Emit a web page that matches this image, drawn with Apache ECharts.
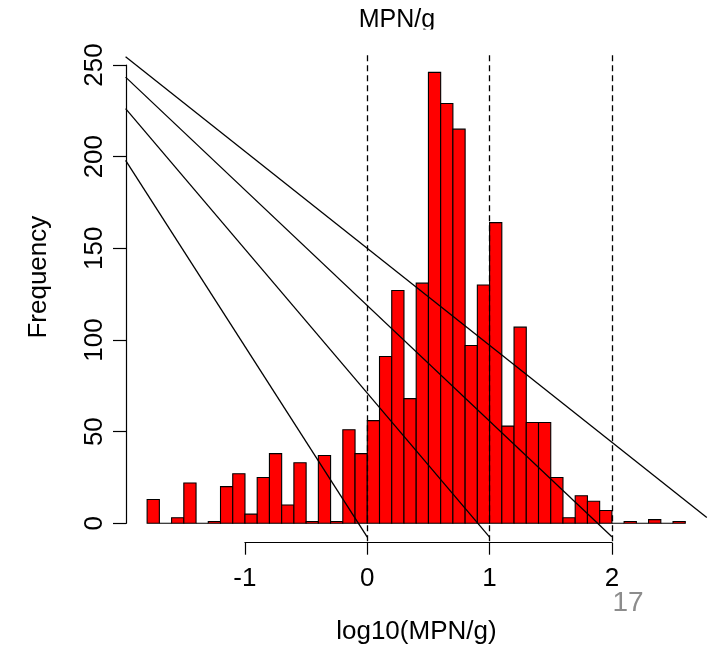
<!DOCTYPE html>
<html>
<head>
<meta charset="utf-8">
<script src="https://cdn.jsdelivr.net/npm/echarts@6/dist/echarts.min.js"></script>
<style>
html,body{margin:0;padding:0;background:#fff;}
#chart{width:712px;height:649px;}
</style>
</head>
<body>
<div id="chart"></div>
<script>
// Histogram bin edges (log10 MPN/g) and counts
const breaks = [-1.8,-1.7,-1.6,-1.5,-1.4,-1.3,-1.2,-1.1,-1.0,-0.9,-0.8,-0.7,-0.6,-0.5,-0.4,-0.3,-0.2,-0.1,
  0.0,0.1,0.2,0.3,0.4,0.5,0.6,0.7,0.8,0.9,1.0,1.1,1.2,1.3,1.4,1.5,1.6,1.7,1.8,1.9,2.0,2.1,2.2,2.3,2.4,2.5,2.6];
const counts = [13,0,3,22,0,1,20,27,5,25,38,10,33,1,37,1,51,38,
  56,91,127,68,131,246,229,215,97,130,164,53,107,55,55,25,3,15,12,7,0,1,0,2,0,1];
// Vertical dashed reference lines
const vLines = [0, 1, 2];
// Diagonal reference lines (start/end in data units)
const diagStartX = [-1.976, -1.976, -1.976, -1.976];
const diagStartY = [198, 226.2, 243.4, 254.5];
const diagEndX = [0, 1, 2, 2.776];
const diagEndY = [-7.6, -7.6, -7.4, 3.2];
// Axis ticks
const yTicks = [0, 50, 100, 150, 200, 250];
const xTicks = [-1, 0, 1, 2];

const FONT = 'Liberation Sans';
const chart = echarts.init(document.getElementById('chart'), null, {renderer: 'canvas'});

const binData = counts.map((c, i) => [breaks[i], breaks[i + 1], c]);

const diagSeries = diagStartY.map((y, i) => ({
  type: 'line',
  xAxisIndex: 0, yAxisIndex: 0,
  data: [[diagStartX[i], y], [diagEndX[i], diagEndY[i]]],
  symbol: 'none',
  lineStyle: {color: '#000', width: 1.3},
  silent: true, animation: false, z: 5
}));

const option = {
  animation: false,
  backgroundColor: '#fff',
  grid: [
    {left: 125.6, top: 54.3, width: 581.2, height: 487},
    {left: 126, top: 65, width: 10, height: 458.3},
    {left: 244.9, top: 500, width: 367, height: 42.7}
  ],
  xAxis: [
    {gridIndex: 0, type: 'value', min: -1.976, max: 2.776, show: false},
    {gridIndex: 1, type: 'value', min: 0, max: 1, show: false},
    {gridIndex: 2, type: 'value', min: xTicks[0], max: xTicks[xTicks.length - 1], interval: 1,
      axisLine: {show: true, onZero: false, lineStyle: {color: '#000', width: 1.2}},
      axisTick: {show: true, length: 12, lineStyle: {color: '#000', width: 1.2}},
      axisLabel: {show: true, margin: 23, fontFamily: FONT, fontSize: 26, color: '#000'},
      splitLine: {show: false},
      name: 'log10(MPN/g)', nameLocation: 'middle', nameGap: 76,
      nameTextStyle: {fontFamily: FONT, fontSize: 26, color: '#000', padding: [0, 24, 0, 0]}
    }
  ],
  yAxis: [
    {gridIndex: 0, type: 'value', min: -9.84, max: 255.84, show: false},
    {gridIndex: 1, type: 'value', min: yTicks[0], max: yTicks[yTicks.length - 1], interval: 50,
      axisLine: {show: true, lineStyle: {color: '#000', width: 1.2}},
      axisTick: {show: true, length: 13, lineStyle: {color: '#000', width: 1.2}},
      axisLabel: {show: true, rotate: 90, margin: 18, fontFamily: FONT, fontSize: 26, color: '#000'},
      splitLine: {show: false},
      name: 'Frequency', nameLocation: 'middle', nameGap: 74, nameRotate: 90,
      nameTextStyle: {fontFamily: FONT, fontSize: 26, color: '#000', padding: [0, 0, 0, 34]}
    },
    {gridIndex: 2, type: 'value', min: 0, max: 1, show: false}
  ],
  graphic: [
    {type: 'text', z: 1, style: {text: 'MPN/g', x: 397, y: 20.5, align: 'center', verticalAlign: 'middle', font: '25px "Liberation Sans"', fill: '#000'}},
    {type: 'rect', z: 2, shape: {x: 330, y: 29.6, width: 140, height: 20}, style: {fill: '#fff'}},
    {type: 'text', z: 2, style: {text: '17', x: 628, y: 603, align: 'center', verticalAlign: 'middle', font: '28px "Liberation Sans"', fill: '#8c8c8c'}}
  ],
  series: [
    {
      type: 'custom',
      xAxisIndex: 0, yAxisIndex: 0,
      data: binData,
      renderItem: function (params, api) {
        const p0 = api.coord([api.value(0), api.value(2)]);
        const p1 = api.coord([api.value(1), 0]);
        return {
          type: 'rect',
          shape: {x: p0[0], y: p0[1], width: p1[0] - p0[0], height: p1[1] - p0[1]},
          style: {fill: '#ff0000', stroke: '#000', lineWidth: 1.1}
        };
      },
      silent: true, animation: false, z: 2
    },
    {
      type: 'line',
      xAxisIndex: 0, yAxisIndex: 0,
      data: [],
      symbol: 'none',
      markLine: {
        silent: true, symbol: 'none', animation: false,
        label: {show: false},
        lineStyle: {color: '#000', type: [6, 4], width: 1.3},
        data: vLines.map(v => ({xAxis: v}))
      },
      z: 4
    },
    ...diagSeries
  ]
};
chart.setOption(option);
</script>
</body>
</html>
